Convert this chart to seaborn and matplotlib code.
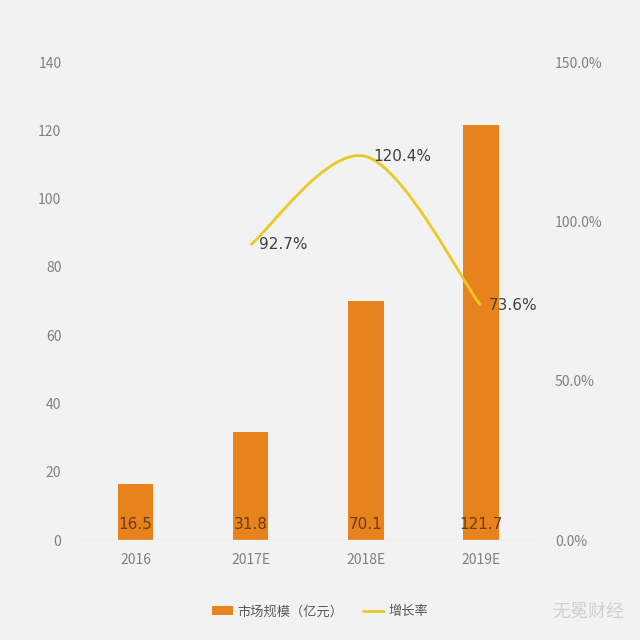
import matplotlib
matplotlib.use("Agg")
import matplotlib.pyplot as plt
import matplotlib.ticker as tkr
from matplotlib.path import Path
from matplotlib.patches import PathPatch, Patch
from matplotlib.lines import Line2D
import pandas as pd
import seaborn as sns

sns.set_style("white")
plt.rcParams['font.family'] = ['Noto Sans CJK SC', 'DejaVu Sans']

years = ['2016', '2017E', '2018E', '2019E']
market_size = [16.5, 31.8, 70.1, 121.7]
growth_years = ['2017E', '2018E', '2019E']
growth_rate = [92.7, 120.4, 73.6]

bar_color = '#E8821C'
line_color = '#EBC923'
bg = '#F2F2F2'
tick_color = '#808080'

df = pd.DataFrame({'year': years, 'size': market_size})

fig = plt.figure(figsize=(6.4, 6.4), dpi=100, facecolor=bg)
ax = fig.add_axes([0.122, 0.156, 0.719, 0.747])
ax.set_facecolor(bg)
sns.barplot(data=df, x='year', y='size', color=bar_color, width=0.31,
            saturation=1, linewidth=0, edgecolor='none', ax=ax)
ax.set_ylim(0, 140)
ax.set_xlim(-0.5, 3.5)
ax.set_yticks(range(0, 141, 20))
ax.set_xlabel('')
ax.set_ylabel('')
for s in ax.spines.values():
    s.set_visible(False)
ax.axhline(0, color='#D9D9D9', lw=1)
ax.tick_params(axis='both', length=0, colors=tick_color, labelsize=10)
ax.tick_params(axis='y', pad=12)
ax.tick_params(axis='x', pad=9)

for i, v in enumerate(market_size):
    ax.text(i, 4.6, f'{v}', ha='center', va='center', fontsize=11,
            color='#6B3C10', family=['DejaVu Sans'])

ax2 = ax.twinx()
ax2.set_ylim(0, 150)
ax2.set_yticks(range(0, 151, 50))
ax2.yaxis.set_major_formatter(tkr.FuncFormatter(lambda y, p: f'{y:.1f}%'))
for s in ax2.spines.values():
    s.set_visible(False)
ax2.tick_params(axis='y', length=0, colors=tick_color, labelsize=10, pad=12)

# smoothed line (Catmull-Rom -> Bezier) through the growth points
xs = [years.index(y) for y in growth_years]
pts = list(zip(xs, growth_rate))
ext = [pts[0]] + pts + [pts[-1]]
verts = [pts[0]]
codes = [Path.MOVETO]
for k in range(1, len(ext) - 2):
    p0, p1, p2, p3 = ext[k - 1], ext[k], ext[k + 1], ext[k + 2]
    c1 = (p1[0] + (p2[0] - p0[0]) / 6, p1[1] + (p2[1] - p0[1]) / 6)
    c2 = (p2[0] - (p3[0] - p1[0]) / 6, p2[1] - (p3[1] - p1[1]) / 6)
    verts += [c1, c2, p2]
    codes += [Path.CURVE4] * 3
ax2.add_patch(PathPatch(Path(verts, codes), fill=False, edgecolor=line_color, lw=2))

for x, v in zip(xs, growth_rate):
    ax2.text(x + 0.07, v, f'{v}%', ha='left', va='center', fontsize=11,
             color='#404040', family=['DejaVu Sans'])

handles = [Patch(facecolor=bar_color, edgecolor='none'),
           Line2D([0], [0], color=line_color, lw=2)]
fig.legend(handles, ['市场规模（亿元）', '增长率'], loc='center',
           bbox_to_anchor=(0.5, 0.044), ncol=2, frameon=False, fontsize=9.5,
           labelcolor='#595959', handlelength=1.6, handletextpad=0.3,
           columnspacing=1.5)

fig.text(0.975, 0.044, '无冕财经', ha='right', va='center', fontsize=13,
         color='#D0D0D0')

fig.savefig('out.png', dpi=100, facecolor=bg)
